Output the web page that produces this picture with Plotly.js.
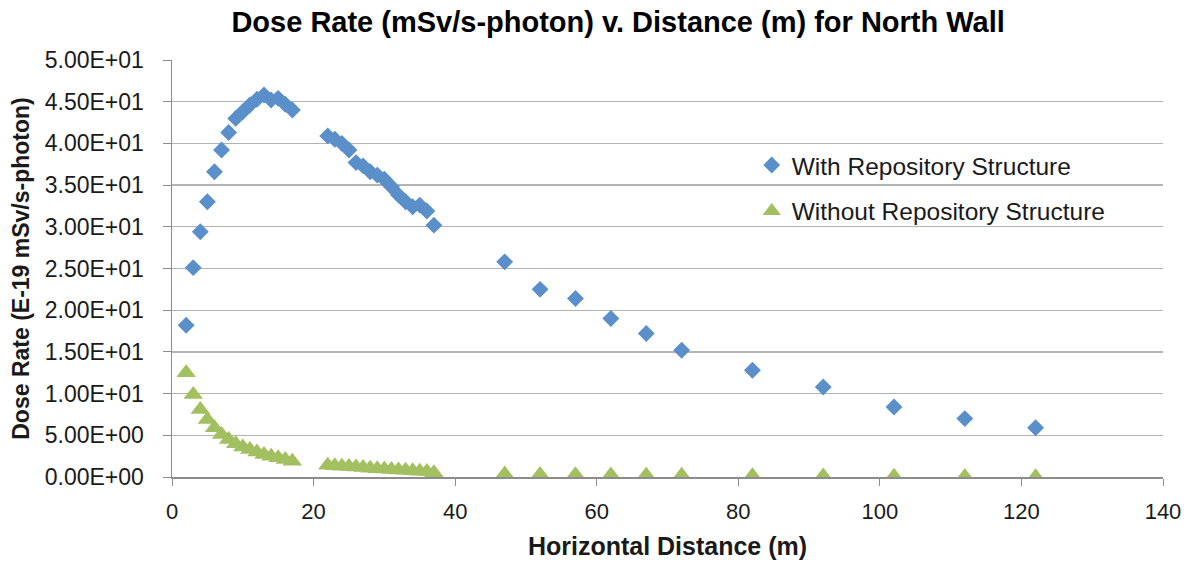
<!DOCTYPE html>
<html>
<head>
<meta charset="utf-8">
<script src="https://cdn.plot.ly/plotly-3.0.1.min.js"></script>
<style>html,body{margin:0;padding:0;background:#fff;}#chart{width:1191px;height:564px;}</style>
</head>
<body>
<div id="chart"></div>
<script>
var withX = [2,3,4,5,6,7,8,9,10,11,12,13,14,15,16,17,
             22,23,24,25,26,27,28,29,30,31,32,33,34,35,36,37,
             47,52,57,62,67,72,82,92,102,112,122];
var withY = [18.2,25.1,29.4,33.0,36.6,39.2,41.3,43.0,43.8,44.6,45.3,45.8,45.2,45.4,44.7,44.0,
             40.9,40.5,40.0,39.2,37.7,37.3,36.6,36.2,35.7,34.8,33.8,33.0,32.4,32.6,31.9,30.2,
             25.8,22.5,21.4,19.0,17.2,15.2,12.8,10.8,8.4,7.0,5.9];
var withoutX = withX.slice();
var withoutY = [12.5,9.9,8.1,6.9,5.9,5.1,4.5,4.0,3.6,3.3,3.0,2.7,2.5,2.3,2.1,1.9,
                1.4,1.35,1.3,1.25,1.2,1.15,1.05,1.0,0.95,0.9,0.85,0.8,0.75,0.7,0.65,0.5,
                0.35,0.3,0.28,0.25,0.22,0.2,0.15,0.12,0.08,0.05,0.02];
var seriesNames = ['With Repository Structure', 'Without Repository Structure'];
var yTickVals = [0,5,10,15,20,25,30,35,40,45,50];
var yTickText = ['0.00E+00','5.00E+00','1.00E+01','1.50E+01','2.00E+01','2.50E+01',
                 '3.00E+01','3.50E+01','4.00E+01','4.50E+01','5.00E+01'];
var xTickVals = [0,20,40,60,80,100,120,140];

var font = 'Liberation Sans, Arial, sans-serif';
var traces = [
  {x: withX, y: withY, type: 'scatter', mode: 'markers', name: seriesNames[0],
   marker: {symbol: 'diamond', size: 13, color: '#5A8FCA'}, legend: 'legend'},
  {x: withoutX, y: withoutY, type: 'scatter', mode: 'markers', name: seriesNames[1],
   marker: {symbol: 'triangle-up', size: 17, color: '#A2C05F'}, legend: 'legend2'}
];
var layout = {
  width: 1191, height: 564,
  margin: {l: 172, r: 28, t: 60, b: 86.5},
  paper_bgcolor: '#fff', plot_bgcolor: '#fff',
  font: {family: font, size: 22, color: '#1a1a1a'},
  title: {text: '<b>Dose Rate (mSv/s-photon) v. Distance (m) for North Wall</b>',
          font: {family: font, size: 29, color: '#000'},
          x: 0.519, xanchor: 'center', y: 0.961, yanchor: 'middle'},
  xaxis: {range: [0, 140], tickvals: xTickVals, showgrid: false, zeroline: false,
          showline: true, linecolor: '#8c8c8c', linewidth: 1.5, ticks: 'outside', ticklen: 7,
          tickcolor: '#8c8c8c', tickfont: {size: 22, color: '#1a1a1a'}, ticklabelstandoff: 7,
          title: {text: '<b>Horizontal Distance (m)</b>', font: {size: 25, color: '#1a1a1a'}, standoff: 14}},
  yaxis: {range: [0, 50], tickvals: yTickVals, ticktext: yTickText, showgrid: true,
          gridcolor: '#b3b3b3', gridwidth: 1.3, zeroline: false,
          showline: true, linecolor: '#8c8c8c', linewidth: 1.5, ticks: 'outside', ticklen: 8,
          tickcolor: '#8c8c8c', tickfont: {size: 23, color: '#1a1a1a'}, ticklabelstandoff: 14,
          title: {text: '<b>Dose Rate (E-19 mSv/s-photon)</b>', font: {size: 23, color: '#1a1a1a'}, standoff: 8}},
  legend: {x: 0.585, y: 0.748, xanchor: 'left', yanchor: 'middle', bgcolor: 'rgba(0,0,0,0)',
           font: {size: 24.5, color: '#1a1a1a'}},
  legend2: {x: 0.585, y: 0.638, xanchor: 'left', yanchor: 'middle', bgcolor: 'rgba(0,0,0,0)',
           font: {size: 24.5, color: '#1a1a1a'}},
  showlegend: true
};
Plotly.newPlot('chart', traces, layout, {displayModeBar: false, staticPlot: true});
</script>
</body>
</html>
